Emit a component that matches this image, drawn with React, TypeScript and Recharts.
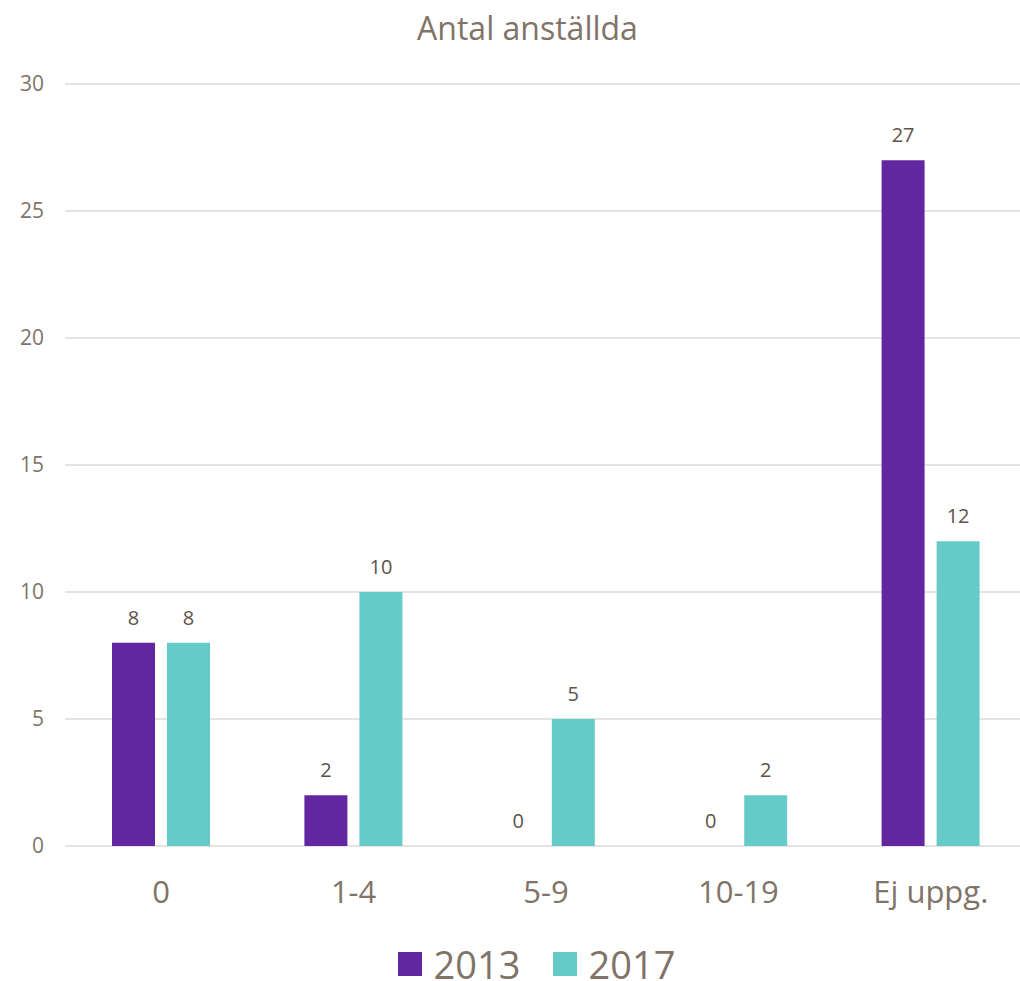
import React from "react";
import { BarChart, Bar, XAxis, YAxis, CartesianGrid, Legend, LabelList } from "recharts";

const categories = ["0", "1-4", "5-9", "10-19", "Ej uppg."];
const values2013 = [8, 2, 0, 0, 27];
const values2017 = [8, 10, 5, 2, 12];
const yTicks = [0, 5, 10, 15, 20, 25, 30];

const data = categories.map((c, i) => ({
  name: c,
  y2013: values2013[i],
  y2017: values2017[i],
}));

const FONT = "'Open Sans', 'Liberation Sans', sans-serif";
const AXIS_COLOR = "#7f7467";
const LABEL_COLOR = "#5d534b";
const PURPLE = "#6226a0";
const TEAL = "#66cbc8";

// zero bars get a tiny invisible height so their "0" label is still drawn
const zeroMin = (value: any) => (Number(value) === 0 ? 0.01 : 0);

function ValueLabel(props: any) {
  const { x, y, width, height, value } = props;
  if (value === undefined || value === null) return null;
  const top = Math.min(Number(y), Number(y) + Number(height || 0));
  return (
    <text
      x={Number(x) + Number(width) / 2}
      y={top - 18}
      textAnchor="middle"
      fill={LABEL_COLOR}
      fontSize={20}
      fontFamily={FONT}
    >
      {value}
    </text>
  );
}

function LegendContent() {
  const items = [
    { label: "2013", color: PURPLE },
    { label: "2017", color: TEAL },
  ];
  return (
    <div style={{ display: "flex", justifyContent: "center", gap: 32, fontFamily: FONT, paddingTop: 28, paddingLeft: 46 }}>
      {items.map((it) => (
        <div key={it.label} style={{ display: "flex", alignItems: "center", height: 30 }}>
          <span style={{ width: 24, height: 24, background: it.color, display: "inline-block", marginRight: 12 }} />
          <span
            style={{
              display: "inline-block",
              height: 30,
              fontSize: 38,
              color: AXIS_COLOR,
              lineHeight: "30px",
              overflow: "visible",
            }}
          >
            {it.label}
          </span>
        </div>
      ))}
    </div>
  );
}

export default function App() {
  return (
    <div style={{ position: "absolute", left: 0, top: 0, width: 1020, height: 981, overflow: "hidden", background: "#fff" }}>
      <div
        style={{
          position: "absolute",
          top: 6,
          left: 0,
          width: 1055,
          textAlign: "center",
          fontFamily: FONT,
          fontSize: 32,
          color: AXIS_COLOR,
        }}
      >
        Antal anställda
      </div>
      <BarChart
        width={1030}
        height={981}
        data={data}
        margin={{ top: 84, right: 3, left: 0, bottom: 0 }}
        barSize={43}
        barGap={12}
      >
        <CartesianGrid vertical={false} stroke="#dedbd7" strokeWidth={1.5} />
        <XAxis
          dataKey="name"
          axisLine={false}
          tickLine={false}
          height={75}
          tick={{ fill: AXIS_COLOR, fontSize: 31, fontFamily: FONT, dy: 27 }}
        />
        <YAxis
          domain={[0, 30]}
          ticks={yTicks}
          width={65}
          axisLine={false}
          tickLine={false}
          tick={{ fill: AXIS_COLOR, fontSize: 21, fontFamily: FONT, dx: -13 }}
        />
        <Legend verticalAlign="bottom" height={60} content={<LegendContent />} />
        <Bar dataKey="y2013" fill={PURPLE} minPointSize={zeroMin} isAnimationActive={false}>
          <LabelList dataKey="y2013" content={<ValueLabel />} />
        </Bar>
        <Bar dataKey="y2017" fill={TEAL} minPointSize={zeroMin} isAnimationActive={false}>
          <LabelList dataKey="y2017" content={<ValueLabel />} />
        </Bar>
      </BarChart>
    </div>
  );
}
